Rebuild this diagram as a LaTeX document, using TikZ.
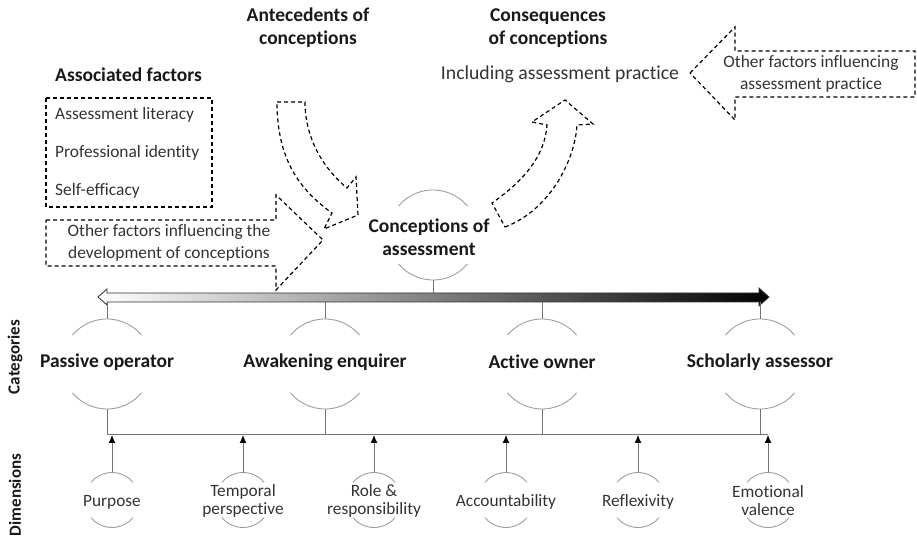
\documentclass[tikz,border=0pt]{standalone}
\usepackage{fontspec}
\setmainfont{Carlito}[Ligatures=NoCommon]
\usetikzlibrary{arrows.meta}

\tikzset{
  ring/.style={draw=none, circle, outer sep=0pt, inner sep=0pt},
  arcline/.style={black!38, line width=0.9pt},
  stub/.style={black!55, line width=1pt},
  dashline/.style={black, line width=1.2pt, dash pattern=on 4pt off 3pt, line join=miter},
  bold label/.style={font=\fontsize{19.5}{23}\selectfont\bfseries, align=center, inner sep=0pt, text=black!90},
  plain label/.style={font=\fontsize{17.4}{22}\selectfont, align=center, inner sep=0pt, text=black!80},
  dim label/.style={font=\fontsize{17.3}{18}\selectfont, align=center, inner sep=0pt, text=black!80},
  side label/.style={font=\fontsize{17}{20}\selectfont\bfseries, rotate=90, inner sep=0pt, text=black!90},
}

\begin{document}
\begin{tikzpicture}[x=1pt, y=1pt]

\useasboundingbox (0,0) rectangle (917,540);

% Headings
\node [bold label] (ante) at (308,512) {Antecedents of\\conceptions};
\node [bold label] (cons) at (548,512) {Consequences\\of conceptions};
\node [plain label, font=\fontsize{19.7}{23}\selectfont] (iap) at (560,466) {Including assessment practice};
\node [bold label, anchor=west] (assoc) at (55,465) {Associated factors};

% Associated factors box
\draw [dashline] (46,442) rectangle (212,333);
\node [plain label, anchor=west] (lit) at (55,425) {Assessment literacy};
\node [plain label, anchor=west] (pid) at (55,387) {Professional identity};
\node [plain label, anchor=west] (eff) at (55,349) {Self-efficacy};

% Other factors influencing the development (block arrow)
\draw [dashline] (46,320) -- (276,320) -- (276,345) -- (323,300) -- (276,250) -- (276,274) -- (46,274) -- cycle;
\node [plain label] (ofd) at (169,297) {Other factors influencing the\\development of conceptions};

% Antecedents: curved arrow down
\draw [dashline] (277,438) -- (305,438) .. controls (305,400) and (325,370) .. (347,352)
  -- (356,363) -- (358,325) -- (324,311) -- (332,327)
  .. controls (300,350) and (277,380) .. (277,438) -- cycle;

% Consequences: curved arrow up
\draw [dashline] (505,313) .. controls (550,330) and (575,380) .. (577,415)
  -- (593,416) -- (565,440) -- (532,418) -- (547,415)
  .. controls (545,385) and (525,360) .. (492,337) -- cycle;

% Other factors influencing practice (block arrow to the left)
\draw [dashline] (690,467) -- (735,513) -- (735,489) -- (915,489) -- (915,443) -- (735,443) -- (735,420) -- cycle;
\node [plain label] (ofp) at (811,466) {Other factors influencing\\assessment practice};

% Gradient bar
\shadedraw [left color=white, right color=black, draw=black!80, line width=0.8pt]
  (98,243) -- (107,251) -- (107,247) -- (759,247) -- (759,252) -- (769,243)
  -- (759,234) -- (759,238) -- (107,238) -- (107,235) -- cycle;
\coordinate (bartop) at (0,247);
\coordinate (barbot) at (0,238);
\coordinate (hl) at (0,105);

% Conceptions of assessment
\node [ring, minimum size=90] (coa) at (433,305) {};
\node [bold label] (coa-t) at (429,303) {Conceptions of\\assessment};
\draw [arcline] (coa.40) arc (40:140:45);
\draw [arcline] (coa.220) arc (220:320:45);
\draw [stub] (coa.south) -- (coa.south |- bartop);

% Categories
\node [ring, minimum size=90] (po) at (107,176) {};
\node [ring, minimum size=90] (ae) at (325,176) {};
\node [ring, minimum size=90] (ao) at (542,176) {};
\node [ring, minimum size=90] (sa) at (760,176) {};
\node [bold label] (po-t) at (107,178) {Passive operator};
\node [bold label] (ae-t) at (325,178) {Awakening enquirer};
\node [bold label] (ao-t) at (542,178) {Active owner};
\node [bold label] (sa-t) at (760,178) {Scholarly assessor};

\draw [arcline] (po.40) arc (40:140:45);
\draw [arcline] (po.220) arc (220:320:45);
\draw [arcline] (ae.40) arc (40:140:45);
\draw [arcline] (ae.220) arc (220:320:45);
\draw [arcline] (ao.40) arc (40:140:45);
\draw [arcline] (ao.220) arc (220:320:45);
\draw [arcline] (sa.40) arc (40:140:45);
\draw [arcline] (sa.220) arc (220:320:45);

\draw [stub] (po.north) -- (po.north |- barbot);
\draw [stub] (ae.north) -- (ae.north |- barbot);
\draw [stub] (ao.north) -- (ao.north |- barbot);
\draw [stub] (sa.north) -- (sa.north |- barbot);

\draw [stub] (po.south) -- (po.south |- hl);
\draw [stub] (ae.south) -- (ae.south |- hl);
\draw [stub] (ao.south) -- (ao.south |- hl);
\draw [stub] (sa.south) -- (sa.south |- hl);

% Dimensions
\node [ring, minimum size=55] (pur) at (112,40) {};
\node [ring, minimum size=55] (tem) at (243,40) {};
\node [ring, minimum size=55] (rol) at (374,40) {};
\node [ring, minimum size=55] (acc) at (506,40) {};
\node [ring, minimum size=55] (ref) at (638,40) {};
\node [ring, minimum size=55] (emo) at (768,40) {};
\node [dim label] (pur-t) at (112,38) {Purpose};
\node [dim label] (tem-t) at (243,39) {Temporal\\perspective};
\node [dim label] (rol-t) at (374,39) {Role \&\\responsibility};
\node [dim label] (acc-t) at (506,38) {Accountability};
\node [dim label] (ref-t) at (638,38) {Reflexivity};
\node [dim label] (emo-t) at (768,39) {Emotional\\valence};

\draw [arcline] (pur.40) arc (40:140:27.5);
\draw [arcline] (pur.220) arc (220:320:27.5);
\draw [arcline] (tem.40) arc (40:140:27.5);
\draw [arcline] (tem.220) arc (220:320:27.5);
\draw [arcline] (rol.40) arc (40:140:27.5);
\draw [arcline] (rol.220) arc (220:320:27.5);
\draw [arcline] (acc.40) arc (40:140:27.5);
\draw [arcline] (acc.220) arc (220:320:27.5);
\draw [arcline] (ref.40) arc (40:140:27.5);
\draw [arcline] (ref.220) arc (220:320:27.5);
\draw [arcline] (emo.40) arc (40:140:27.5);
\draw [arcline] (emo.220) arc (220:320:27.5);

% Horizontal line and dimension arrows
\draw [stub] (po.south |- hl) -- (emo.north |- hl);
\draw [->,>={Latex[black,length=8pt,width=7pt]}, stub] (pur.north) -- (pur.north |- hl);
\draw [->,>={Latex[black,length=8pt,width=7pt]}, stub] (tem.north) -- (tem.north |- hl);
\draw [->,>={Latex[black,length=8pt,width=7pt]}, stub] (rol.north) -- (rol.north |- hl);
\draw [->,>={Latex[black,length=8pt,width=7pt]}, stub] (acc.north) -- (acc.north |- hl);
\draw [->,>={Latex[black,length=8pt,width=7pt]}, stub] (ref.north) -- (ref.north |- hl);
\draw [->,>={Latex[black,length=8pt,width=7pt]}, stub] (emo.north) -- (emo.north |- hl);

% Side labels
\node [side label] (cat) at (15,183) {Categories};
\node [side label] (dims) at (15,45) {Dimensions};

\end{tikzpicture}
\end{document}
